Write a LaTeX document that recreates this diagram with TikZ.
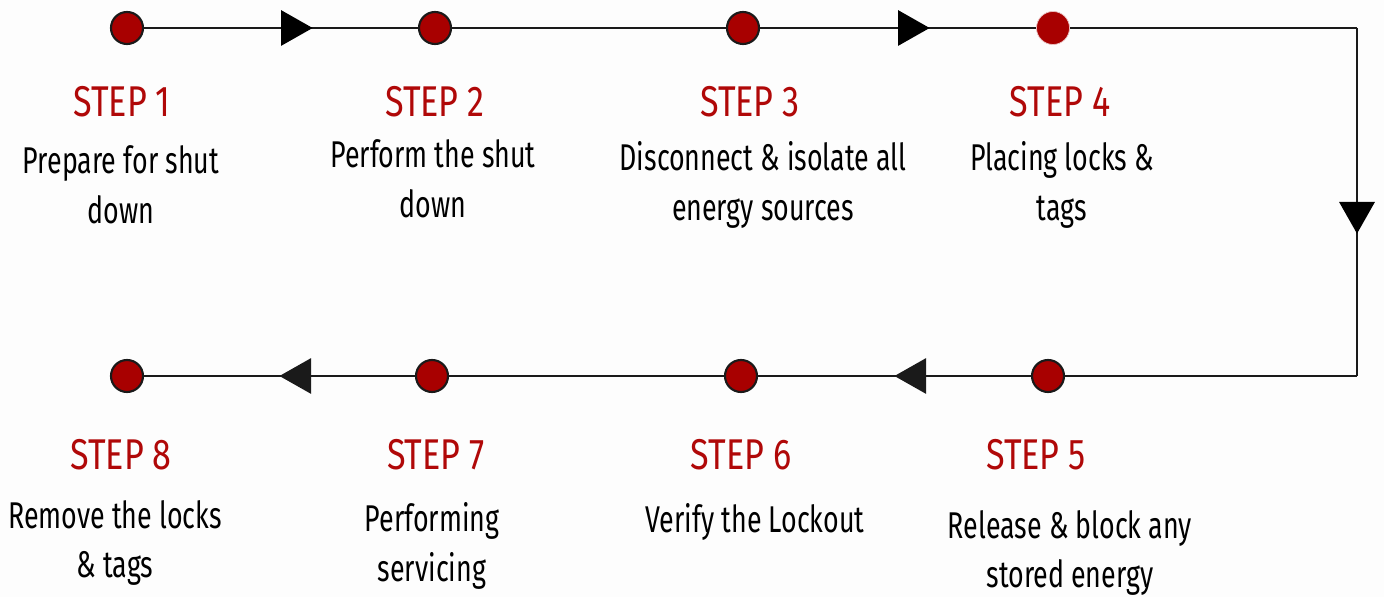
\documentclass[tikz,border=0pt]{standalone}
\usepackage{fontspec}
\setmainfont{Fira Sans}[FakeStretch=0.72]
\usetikzlibrary{decorations.markings}
\definecolor{dotred}{HTML}{A80000}
\definecolor{stepred}{HTML}{B00808}
\definecolor{linegray}{HTML}{1A1A1A}
\definecolor{bgcol}{HTML}{FDFDFD}
\tikzset{
  flowline/.style={draw=linegray, line width=1.2pt},
  fwdhead/.style={postaction={decorate, decoration={markings,
     mark=at position 0.5 with {\fill[black] (0pt,-10.2pt) -- (18pt,0pt) -- (0pt,10.2pt) -- cycle;}}}},
  backhead/.style={postaction={decorate, decoration={markings,
     mark=at position 0.5 with {\fill[linegray] (-18pt,-10.2pt) -- (0pt,0pt) -- (-18pt,10.2pt) -- cycle;}}}},
  stepdot/.style={circle, minimum size=32*0.02cm, inner sep=0pt, fill=dotred, draw=linegray, line width=1.2pt},
  stepdotb/.style={circle, minimum size=33*0.02cm, inner sep=0pt, fill=dotred, draw=white!75!dotred, line width=0.4pt},
  steplabel/.style={text=stepred, font=\fontsize{24.5}{28}\selectfont, inner sep=0pt, xscale=1.1},
  desc/.style={text=black, font=\fontsize{21.2}{28.3}\selectfont, align=center, inner sep=0pt}
}
\begin{document}
\begin{tikzpicture}[x=0.02cm, y=-0.02cm]
\fill[bgcol] (0,0) rectangle (1384,597);
\useasboundingbox (0,0) rectangle (1384,597);
% coordinates
\coordinate (p1) at (127,28);
\coordinate (p2) at (435,28);
\coordinate (p3) at (743,28);
\coordinate (p4) at (1053,28);
\coordinate (c1) at (1357,28);
\coordinate (c2) at (1357,376);
\coordinate (p5) at (1048,376);
\coordinate (p6) at (741,376);
\coordinate (p7) at (432,376);
\coordinate (p8) at (127,376);
% connectors
\draw[flowline, fwdhead] (p1) -- (p2);
\draw[flowline] (p2) -- (p3);
\draw[flowline, fwdhead] (p3) -- (p4);
\draw[flowline] (p4) -- (c1);
\draw[flowline] (c1) -- (c2);
\path[fwdhead] (c1) -- (c2);
\draw[flowline] (c2) -- (p5);
\draw[flowline, backhead] (p5) -- (p6);
\draw[flowline] (p6) -- (p7);
\draw[flowline, backhead] (p7) -- (p8);
% dots
\node[stepdot] (d1) at (p1) {};
\node[stepdot] (d2) at (p2) {};
\node[stepdot] (d3) at (p3) {};
\node[stepdotb] (d4) at (p4) {};
\node[stepdot] (d5) at (p5) {};
\node[stepdot] (d6) at (p6) {};
\node[stepdot] (d7) at (p7) {};
\node[stepdot] (d8) at (p8) {};
% labels
\node[steplabel] (s1) at (122,102) {STEP 1};
\node[steplabel] (s2) at (435,102) {STEP 2};
\node[steplabel] (s3) at (750,102) {STEP 3};
\node[steplabel] (s4) at (1060,102) {STEP 4};
\node[steplabel] (s5) at (1036,455) {STEP 5};
\node[steplabel] (s6) at (741,455) {STEP 6};
\node[steplabel] (s7) at (436,455) {STEP 7};
\node[steplabel] (s8) at (121,455) {STEP 8};
\node[desc] (t1) at (121,185) {Prepare for shut\\down};
\node[desc] (t2) at (433,179) {Perform the shut\\down};
\node[desc] (t3) at (763,185) {Disconnect \& isolate all\\energy sources};
\node[desc] (t4) at (1062,185) {Placing locks \&\\tags};
\node[desc] (t5) at (1070,553) {Release \& block any\\stored energy};
\node[desc] (t6) at (755,522) {Verify the Lockout};
\node[desc] (t7) at (432,546) {Performing\\servicing};
\node[desc] (t8) at (115,543) {Remove the locks\\\& tags};
\end{tikzpicture}
\end{document}
